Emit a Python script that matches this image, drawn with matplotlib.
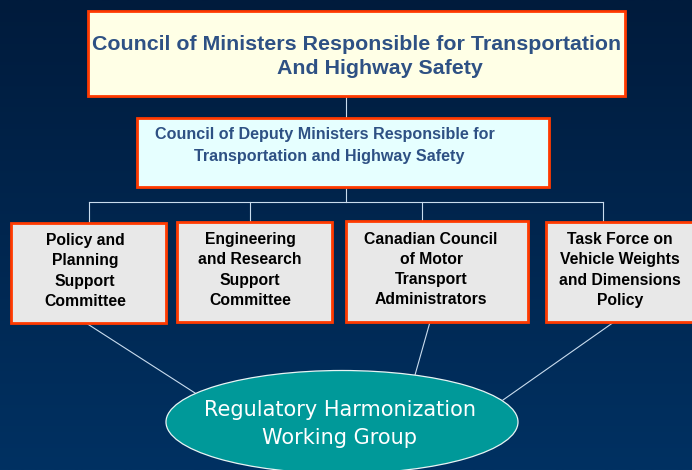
import matplotlib
matplotlib.use("Agg")
import matplotlib.pyplot as plt
import numpy as np
from matplotlib.patches import Rectangle, Ellipse

# org chart text
top_lines = ["Council of Ministers Responsible for Transportation", "And Highway Safety"]
deputy_lines = ["Council of Deputy Ministers Responsible for", "Transportation and Highway Safety"]
committees = [
    "Policy and\nPlanning\nSupport\nCommittee",
    "Engineering\nand Research\nSupport\nCommittee",
    "Canadian Council\nof Motor\nTransport\nAdministrators",
    "Task Force on\nVehicle Weights\nand Dimensions\nPolicy",
]
group_label = "Regulatory Harmonization\nWorking Group"

# layout in pixels (x0, y0, x1, y1)
top_box = (88, 11, 625, 96)
top_text_pos = [(357, 44), (380, 69)]
deputy_box = (137, 118, 549, 187)
deputy_text_pos = [(325, 134), (329, 156)]
comm_boxes = [(11, 223, 166, 323), (177, 222, 332, 322), (346, 221, 528, 322), (546, 222, 693, 322)]
comm_text_x = [85, 250, 431, 620]
drop_x = [89, 250, 422, 603]
bus_y = 202
ell_center = (342, 422)
ell_size = (352, 103)
spokes = [((86, 323), (195, 393)), ((430, 322), (415, 375)), ((614, 322), (503, 400))]

W, H = 692, 470
fig = plt.figure(figsize=(W / 100, H / 100), dpi=100)
ax = fig.add_axes([0, 0, 1, 1])
ax.set_xlim(0, W)
ax.set_ylim(H, 0)
ax.axis("off")

# background gradient, dark navy to blue
top_c = np.array([0x00, 0x1b, 0x3c]) / 255
bot_c = np.array([0x00, 0x31, 0x62]) / 255
t = np.linspace(0, 1, 256)[:, None]
grad = top_c[None, :] * (1 - t) + bot_c[None, :] * t
ax.imshow(grad[:, None, :], extent=[0, W, H, 0], aspect="auto", zorder=0)

line_c = "#c9dcee"
edge_c = "#ff3a00"
lw_line = 0.8

def box(b, fc):
    x0, y0, x1, y1 = b
    ax.add_patch(Rectangle((x0, y0), x1 - x0, y1 - y0, facecolor=fc, edgecolor=edge_c,
                           linewidth=2.0, zorder=3))

# connectors
ax.plot([346, 346], [top_box[3], deputy_box[1]], color=line_c, lw=lw_line, zorder=1)
ax.plot([346, 346], [deputy_box[3], bus_y], color=line_c, lw=lw_line, zorder=1)
ax.plot([drop_x[0], drop_x[-1]], [bus_y, bus_y], color=line_c, lw=lw_line, zorder=1)
for x, b in zip(drop_x, comm_boxes):
    ax.plot([x, x], [bus_y, b[1]], color=line_c, lw=lw_line, zorder=1)
for (p0, p1) in spokes:
    ax.plot([p0[0], p1[0]], [p0[1], p1[1]], color=line_c, lw=lw_line, zorder=1)

# top boxes
box(top_box, "#ffffe6")
for s, (x, y) in zip(top_lines, top_text_pos):
    ax.text(x, y, s, ha="center", va="center", fontsize=15.4, fontweight="bold",
            color="#2e5184", family="Liberation Sans", zorder=4)
box(deputy_box, "#e6ffff")
for s, (x, y) in zip(deputy_lines, deputy_text_pos):
    ax.text(x, y, s, ha="center", va="center", fontsize=11.6, fontweight="bold",
            color="#2e5184", family="Liberation Sans", zorder=4)

# committee boxes
for b, s, x in zip(comm_boxes, committees, comm_text_x):
    box(b, "#e8e8e8")
    ax.text(x, (b[1] + b[3]) / 2 - 2, s, ha="center", va="center", multialignment="center",
            fontsize=11.3, fontweight="bold", color="black", family="Liberation Sans",
            linespacing=1.44, zorder=4)

# working group ellipse
ax.add_patch(Ellipse(ell_center, ell_size[0], ell_size[1], facecolor="#009999",
                     edgecolor="#e8f4f4", linewidth=0.9, zorder=3))
ax.text(ell_center[0] - 2, 424, group_label, ha="center", va="center", multialignment="center",
        fontsize=15, color="white", family="DejaVu Sans", linespacing=1.55, zorder=4)

fig.savefig("out.png", dpi=100)
